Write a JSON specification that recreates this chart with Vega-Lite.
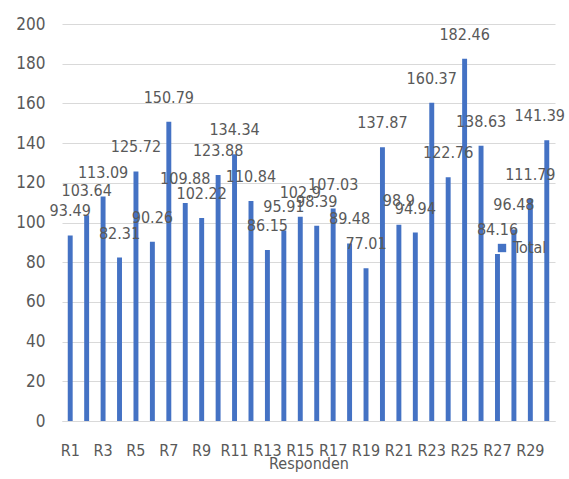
{
  "$schema": "https://vega.github.io/schema/vega-lite/v6.json",
  "width": 493,
  "height": 397,
  "autosize": {"type": "none"},
  "padding": {"left": 62, "top": 24, "right": 14, "bottom": 58},
  "background": "white",
  "config": {
    "view": {"stroke": null},
    "font": "DejaVu Sans Condensed",
    "axis": {
      "labelFont": "DejaVu Sans Condensed",
      "titleFont": "DejaVu Sans Condensed",
      "labelColor": "#595959",
      "titleColor": "#595959",
      "labelFontSize": 16,
      "titleFontSize": 16,
      "titleFontWeight": "normal",
      "gridColor": "#d9d9d9",
      "domainColor": "#d9d9d9",
      "ticks": false
    }
  },
  "data": {
    "values": [
      {"resp": "R1", "total": 93.49, "series": "Total"},
      {"resp": "R2", "total": 103.64, "series": "Total"},
      {"resp": "R3", "total": 113.09, "series": "Total"},
      {"resp": "R4", "total": 82.31, "series": "Total"},
      {"resp": "R5", "total": 125.72, "series": "Total"},
      {"resp": "R6", "total": 90.26, "series": "Total"},
      {"resp": "R7", "total": 150.79, "series": "Total"},
      {"resp": "R8", "total": 109.88, "series": "Total"},
      {"resp": "R9", "total": 102.22, "series": "Total"},
      {"resp": "R10", "total": 123.88, "series": "Total"},
      {"resp": "R11", "total": 134.34, "series": "Total"},
      {"resp": "R12", "total": 110.84, "series": "Total"},
      {"resp": "R13", "total": 86.15, "series": "Total"},
      {"resp": "R14", "total": 95.91, "series": "Total"},
      {"resp": "R15", "total": 102.9, "series": "Total"},
      {"resp": "R16", "total": 98.39, "series": "Total"},
      {"resp": "R17", "total": 107.03, "series": "Total"},
      {"resp": "R18", "total": 89.48, "series": "Total"},
      {"resp": "R19", "total": 77.01, "series": "Total"},
      {"resp": "R20", "total": 137.87, "series": "Total"},
      {"resp": "R21", "total": 98.9, "series": "Total"},
      {"resp": "R22", "total": 94.94, "series": "Total"},
      {"resp": "R23", "total": 160.37, "series": "Total"},
      {"resp": "R24", "total": 122.76, "series": "Total"},
      {"resp": "R25", "total": 182.46, "series": "Total"},
      {"resp": "R26", "total": 138.63, "series": "Total"},
      {"resp": "R27", "total": 84.16, "series": "Total"},
      {"resp": "R28", "total": 96.48, "series": "Total"},
      {"resp": "R29", "total": 111.79, "series": "Total"},
      {"resp": "R30", "total": 141.39, "series": "Total"}
    ]
  },
  "encoding": {
    "x": {
      "field": "resp",
      "type": "nominal",
      "sort": null,
      "scale": {"paddingInner": 0.7, "paddingOuter": 0.35},
      "title": "Responden",
      "axis": {
        "values": ["R1", "R3", "R5", "R7", "R9", "R11", "R13", "R15", "R17", "R19", "R21", "R23", "R25", "R27", "R29"],
        "labelAngle": 0,
        "labelPadding": 21,
        "titlePadding": -3,
        "grid": false
      }
    },
    "y": {
      "field": "total",
      "type": "quantitative",
      "scale": {"domain": [0, 200]},
      "title": null,
      "axis": {
        "values": [0, 20, 40, 60, 80, 100, 120, 140, 160, 180, 200],
        "domain": false,
        "labelPadding": 17,
        "labelFontSize": 17
      }
    }
  },
  "layer": [
    {
      "mark": {"type": "bar"},
      "encoding": {
        "color": {
          "field": "series",
          "type": "nominal",
          "scale": {"range": ["#4472c4"]},
          "legend": {
            "title": null,
            "orient": "none",
            "legendX": 432,
            "legendY": 216,
            "symbolType": "square",
            "symbolSize": 70,
            "labelFont": "DejaVu Sans Condensed",
            "labelFontSize": 16,
            "labelColor": "#595959",
            "labelOffset": 3
          }
        }
      }
    },
    {
      "transform": [{"filter": "datum.resp !== 'R30'"}],
      "mark": {
        "type": "text",
        "baseline": "middle",
        "dy": -24,
        "fontSize": 16,
        "color": "#595959",
        "font": "DejaVu Sans Condensed"
      },
      "encoding": {
        "text": {"field": "total", "type": "quantitative"}
      }
    },
    {
      "transform": [{"filter": "datum.resp === 'R30'"}],
      "mark": {
        "type": "text",
        "baseline": "middle",
        "dy": -24,
        "dx": -7,
        "fontSize": 16,
        "color": "#595959",
        "font": "DejaVu Sans Condensed"
      },
      "encoding": {
        "text": {"field": "total", "type": "quantitative"}
      }
    }
  ]
}
